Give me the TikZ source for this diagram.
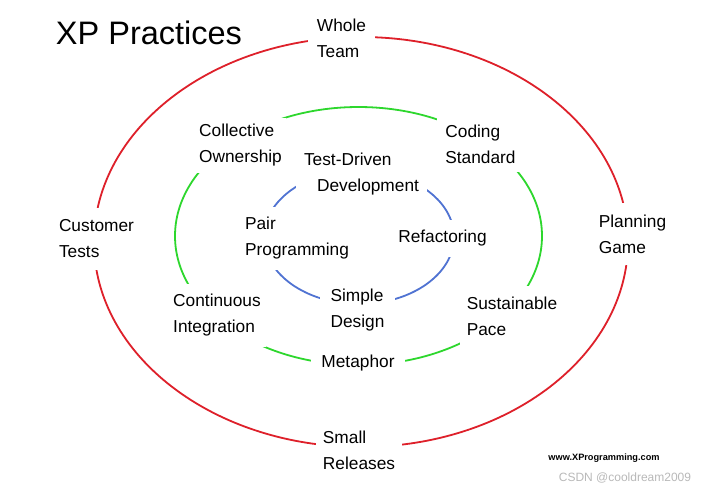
\documentclass[tikz,border=0pt]{standalone}
\usepackage{fontspec}
\setmainfont{Liberation Sans}
\definecolor{xpred}{RGB}{222,32,42}
\definecolor{xpgreen}{RGB}{45,215,45}
\definecolor{xpblue}{RGB}{80,115,210}
\definecolor{wmgray}{RGB}{185,185,185}
\tikzset{
  ring/.style={line width=1.8pt},
  lbl/.style={fill=white, inner sep=0pt, align=left, font=\fontsize{17.3}{26}\selectfont, text=black},
}
\begin{document}
\begin{tikzpicture}[x=1pt,y=-1pt]
\useasboundingbox[fill=white] (0,0) rectangle (710,491);
% rings
\draw[ring, xpred]   (361,242) ellipse [x radius=267pt, y radius=205pt];
\draw[ring, xpgreen] (358.5,236) ellipse [x radius=183.5pt, y radius=129pt];
\draw[ring, xpblue]  (359,237) ellipse [x radius=95pt, y radius=67pt];
% title
\node[font=\fontsize{32.5}{36}\selectfont] (title) at (149,33) {XP Practices};
% outer ring
\node[lbl, minimum width=67pt, minimum height=50pt] (whole) at (341.5,38) {Whole\\Team};
\node[lbl, minimum width=87pt, minimum height=62pt] (customer) at (96.5,239) {Customer\\Tests};
\node[lbl, minimum width=77pt, minimum height=62pt] (planning) at (632.5,234) {Planning\\Game};
\node[lbl, minimum width=86pt, minimum height=49pt] (small) at (359,450) {Small\\Releases};
% middle ring
\node[lbl, minimum width=91pt, minimum height=55pt] (collective) at (240.5,145) {Collective\\Ownership};
\node[lbl, minimum width=87pt, minimum height=55pt] (coding) at (480.5,144.5) {Coding\\Standard};
\node[lbl, minimum width=98pt, minimum height=63pt] (continuous) at (217,315.5) {Continuous\\Integration};
\node[lbl, minimum width=104pt, minimum height=60pt] (sustainable) at (512,316) {Sustainable\\Pace};
\node[lbl, minimum width=94pt, minimum height=27pt] (metaphor) at (358,363) {Metaphor};
% inner ring
\node[lbl, minimum width=131pt, minimum height=54pt] (tdd) at (361.5,174) {Test-Driven\\\hspace*{13pt}Development};
\node[lbl, minimum width=118pt, minimum height=63pt] (pair) at (297,238) {Pair\\Programming};
\node[lbl, minimum width=101pt, minimum height=37pt] (refactoring) at (442.5,238.5) {Refactoring};
\node[lbl, minimum width=75pt, minimum height=52pt] (simple) at (357.5,310) {Simple\\Design};
% footer
\node[font=\fontsize{9.2}{11}\bfseries] (url) at (604,458) {www.XProgramming.com};
\node[font=\fontsize{12}{14}\selectfont, text=wmgray] (watermark) at (625,478) {CSDN @cooldream2009};
\end{tikzpicture}
\end{document}
